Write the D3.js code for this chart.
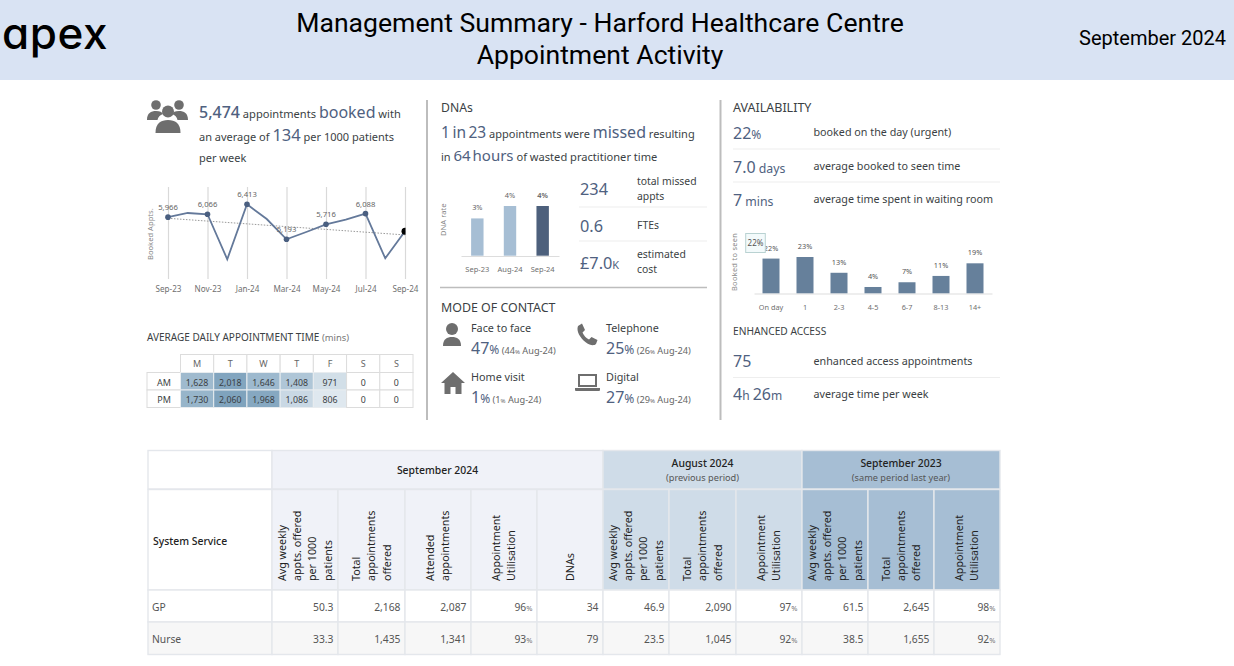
<!DOCTYPE html>
<html><head><meta charset="utf-8">
<script src="https://cdn.jsdelivr.net/npm/d3@7"></script>
<style>html,body{margin:0;padding:0;background:#fff;overflow:hidden}svg{display:block}
text{font-family:"Noto Sans",sans-serif}</style></head><body><div id="c"></div>
<script>
const months=["Sep-23","Oct-23","Nov-23","Dec-23","Jan-24","Feb-24","Mar-24","Apr-24","May-24","Jun-24","Jul-24","Aug-24","Sep-24"];
const booked=[5966,6110,6066,4497,6413,5900,5193,5447,5716,5880,6088,4531,5474];
const trendEnds=[5925,5345];
const labelledMonths=["Sep-23","Nov-23","Jan-24","Mar-24","May-24","Jul-24"];
const heatDays=["M","T","W","T","F","S","S"];
const heatAM=[1628,2018,1646,1408,971,0,0];
const heatPM=[1730,2060,1968,1086,806,0,0];
const dnaMonths=["Sep-23","Aug-24","Sep-24"];
const dnaRates=[3,4,4];
const waitBands=["On day","1","2-3","4-5","6-7","8-13","14+"];
const waitShares=[22,23,13,4,7,11,19];
const tableGroups=[["September 2024",""],["August 2024","(previous period)"],["September 2023","(same period last year)"]];
const colsA=[["Avg weekly","appts. offered","per 1000","patients"],["Total","appointments","offered"],["Attended","appointments"],["Appointment","Utilisation"],["DNAs"]];
const colsB=[["Avg weekly","appts. offered","per 1000","patients"],["Total","appointments","offered"],["Appointment","Utilisation"]];
const rowNames=["GP","Nurse"];
const gpRow=["50.3","2,168","2,087","96%","34","46.9","2,090","97%","61.5","2,645","98%"];
const nurseRow=["33.3","1,435","1,341","93%","79","23.5","1,045","92%","38.5","1,655","92%"];

const dark="#3b3f44",blue="#4f6180",axisGrey="#6f6f6f";
const svg=d3.select("#c").append("svg").attr("width",1234).attr("height",666);
function rich(x,y,parts,anchor){
  const t=svg.append("text").attr("x",x).attr("y",y).attr("text-anchor",anchor||"start");
  parts.forEach(p=>{const s=t.append("tspan").text(p[0]).attr("font-size",p[1]).attr("fill",p[2]||dark).attr("font-weight",p[3]||400);
    if(p[4]) s.attr("word-spacing",p[4]);});
  return t;
}
// header
svg.append("rect").attr("width",1234).attr("height",80).attr("fill","#d9e3f3");
svg.append("text").attr("x",600).attr("y",32).attr("text-anchor","middle").attr("font-size",26.6).style("font-family","Roboto").attr("fill","#000").text("Management Summary - Harford Healthcare Centre");
svg.append("text").attr("x",600).attr("y",64).attr("text-anchor","middle").attr("font-size",26.6).style("font-family","Roboto").attr("fill","#000").text("Appointment Activity");
svg.append("text").attr("x",1226).attr("y",45).attr("text-anchor","end").attr("font-size",20).style("font-family","Roboto").attr("fill","#000").text("September 2024");
svg.append("text").attr("x",2).attr("y",49).attr("font-size",44).style("font-family","Inter").style("font-feature-settings",'"cv11"').attr("font-weight",500).attr("letter-spacing",.6).attr("fill","#000").text("apex");

// dividers
[427,720.5].forEach(x=>svg.append("line").attr("x1",x).attr("x2",x).attr("y1",100).attr("y2",420).attr("stroke","#bdbdbd").attr("stroke-width",2));

// left text
const icon=(x,y,s)=>svg.append("g").attr("transform",`translate(${x},${y}) scale(${s||1})`).attr("fill","#6e6e6e");
const people=icon(147,99);
[[9,6,4.8],[32,6,4.8]].forEach(c=>people.append("circle").attr("cx",c[0]).attr("cy",c[1]).attr("r",c[2]));
people.append("path").attr("d","M0 21 C0 14 4 12 9 12 C13 12 15 13 16 15 C13 16 11 18 10.5 21 Z M41 21 C41 14 37 12 32 12 C28 12 26 13 25 15 C28 16 30 18 30.5 21 Z");
people.append("circle").attr("cx",21).attr("cy",12.5).attr("r",6);
people.append("path").attr("d","M8.5 34 C8.5 24 14 21 21 21 C28 21 33.5 24 33.5 34 Z");
rich(199,118,[["5,474",16,blue,500],[" appointments ",11.1,dark],["booked",16,blue,400],[" with",11.1,dark]]);
rich(199,141,[["an average of ",11],["134",16.5,blue,400],[" per 1000 patients",11]]);
rich(199,162,[["per week",11]]);

// line chart
const lx=d3.scalePoint().domain(months).range([168,405]);
const ly=d3.scaleLinear().domain([3855,6413]).range([277.7,204.3]);
const lineAxis=d3.axisBottom(lx).tickValues(months.filter((m,i)=>i%2==0)).tickSize(-92).tickPadding(7);
const ag=svg.append("g").attr("transform","translate(0,279)").call(lineAxis);
ag.select(".domain").remove();
ag.selectAll("line").attr("stroke","#d9d9d9").attr("stroke-width",1.2);
ag.selectAll("text").attr("font-size",8.1).attr("fill",axisGrey);
svg.append("defs").append("clipPath").attr("id","lc").append("rect").attr("x",150).attr("y",180).attr("width",255.5).attr("height",110);
const lg=svg.append("g").attr("clip-path","url(#lc)");
lg.append("path").attr("d",d3.line()([[lx(months[0]),ly(trendEnds[0])],[lx(months[12]),ly(trendEnds[1])]])).attr("stroke","#999").attr("stroke-width",1).attr("stroke-dasharray","1.5 1.5").attr("fill","none");
lg.append("path").datum(booked).attr("d",d3.line().x((d,i)=>lx(months[i])).y(d=>ly(d))).attr("fill","none").attr("stroke","#64799a").attr("stroke-width",1.8);
months.forEach((m,i)=>{
  if(labelledMonths.includes(m)){
    lg.append("circle").attr("cx",lx(m)).attr("cy",ly(booked[i])).attr("r",2.8).attr("fill","#4a5f80");
    svg.append("text").attr("x",lx(m)).attr("y",ly(booked[i])-7).attr("text-anchor","middle").attr("font-size",7.7).attr("fill","#666").text(d3.format(",")(booked[i]));
  }
});
lg.append("circle").attr("cx",lx("Sep-24")).attr("cy",ly(booked[12])).attr("r",3.5).attr("fill","#000");
svg.append("text").attr("transform","translate(153,260) rotate(-90)").attr("font-size",7.6).attr("fill","#888").text("Booked Appts.");

// heat table
rich(147,341,[["AVERAGE DAILY APPOINTMENT TIME ",10,dark],["(mins)",9.4,"#777"]]);
const hx=d3.scaleBand().domain(d3.range(7)).range([180.5,413]);
const heat=d3.scaleLinear().domain([0,1,806,1408,2060]).range(["#fff","#dfe8ef","#dfe8ef","#afc6d7","#7fa3bd"]).clamp(true);
const grid="#dcdcdc";
heatDays.forEach((d,i)=>{
  svg.append("rect").attr("x",hx(i)).attr("y",354.5).attr("width",hx.bandwidth()).attr("height",18).attr("fill","#fff").attr("stroke",grid);
  svg.append("text").attr("x",hx(i)+hx.bandwidth()/2).attr("y",367).attr("text-anchor","middle").attr("font-size",9).attr("fill","#666").text(d);
});
[["AM",heatAM,372.5],["PM",heatPM,390]].forEach(r=>{
  svg.append("rect").attr("x",147).attr("y",r[2]).attr("width",33.5).attr("height",17.5).attr("fill","#fff").attr("stroke",grid);
  svg.append("text").attr("x",164).attr("y",r[2]+13).attr("text-anchor","middle").attr("font-size",9).attr("fill",dark).text(r[0]);
  r[1].forEach((v,i)=>{
    svg.append("rect").attr("x",hx(i)).attr("y",r[2]).attr("width",hx.bandwidth()).attr("height",17.5).attr("fill",heat(v)).attr("stroke",v?"#e8ecef":grid);
    svg.append("text").attr("x",hx(i)+hx.bandwidth()/2).attr("y",r[2]+13).attr("text-anchor","middle").attr("font-size",8.8).attr("fill",dark).text(d3.format(",")(v));
  });
});

// DNA
rich(441,112,[["DNAs",12.2]]);
rich(441,138,[["1 in 23",15.5,blue,400,-1.5],[" appointments were ",11],["missed",16,blue,400],[" resulting",11]]);
rich(441,161,[["in ",11],["64 hours",15,blue,400,-2],[" of wasted practitioner time",11.1]]);
const dx=d3.scaleBand().domain(dnaMonths).range([461,559]).paddingInner(.62).paddingOuter(.31);
const dy=d3.scaleLinear().domain([0,4]).range([255.7,206]);
const dAxis=d3.axisBottom(dx).tickSize(0).tickPadding(10.5);
const dg=svg.append("g").attr("transform","translate(0,256)").call(dAxis);
dg.select(".domain").attr("stroke","#ddd").attr("stroke-width",1);
dg.selectAll("text").attr("font-size",7.5).attr("fill",axisGrey);
dnaMonths.forEach((m,i)=>{
  svg.append("rect").attr("x",dx(m)).attr("y",dy(dnaRates[i])).attr("width",dx.bandwidth()).attr("height",dy(0)-dy(dnaRates[i])).attr("fill",i==2?"#4d607c":"#a6bed4");
  svg.append("text").attr("x",dx(m)+dx.bandwidth()/2).attr("y",dy(dnaRates[i])-8).attr("text-anchor","middle").attr("font-size",7.4).attr("font-weight",i==2?600:400).attr("fill","#666").text(dnaRates[i]+"%");
});
svg.append("text").attr("transform","translate(446,236) rotate(-90)").attr("font-size",7.6).attr("fill","#888").text("DNA rate");
rich(580,195,[["234",16.3,blue,400]]);
rich(637,185,[["total missed",10.4]]);rich(637,200,[["appts",10.4]]);
rich(580,232,[["0.6",16.3,blue,400]]);
rich(637,229,[["FTEs",10.4]]);
rich(580,269,[["£7.0",16.3,blue,400],["K",11,blue,400]]);
rich(637,258,[["estimated",10.4]]);rich(637,273,[["cost",10.4]]);
[207,241].forEach(y=>svg.append("line").attr("x1",579).attr("x2",707).attr("y1",y).attr("y2",y).attr("stroke","#eeeeee").attr("stroke-width",1.2));
svg.append("line").attr("x1",440).attr("x2",707).attr("y1",287.5).attr("y2",287.5).attr("stroke","#bdbdbd").attr("stroke-width",1.5);

// mode of contact
rich(441,312,[["MODE OF CONTACT",12.4]]);
const person=icon(443,323);
person.append("circle").attr("cx",9).attr("cy",6).attr("r",6);
person.append("path").attr("d","M0 23 C0 16 4 14 9 14 C14 14 18 16 18 23 Z");
const phone=icon(577,323);
phone.append("path").attr("d","M1 3 L5 0.5 L8 7 L5.5 9.5 C7 13 9 15 12 16.5 L14.5 14 L20.5 17 L19 21 C17 23 13 22.5 9 19.5 C3 15 -1 8 1 3 Z");
const house=icon(441,372);
house.append("path").attr("d","M12 0 L24 11 L20.5 11 L20.5 22 L14.5 22 L14.5 15 L9.5 15 L9.5 22 L3.5 22 L3.5 11 L0 11 Z");
const laptop=icon(575,374);
laptop.append("path").attr("fill-rule","evenodd").attr("d","M3 0 H22 V13 H3 Z M5 2 V11 H20 V2 Z M0 14 H25 V16 Q25 17 24 17 H1 Q0 17 0 16 Z");
[[471,332,348,"Face to face","47%","44","Aug-24"],[606,332,348,"Telephone","25%","26","Aug-24"],[471,381,397,"Home visit","1%","1","Aug-24"],[606,381,397,"Digital","27%","29","Aug-24"]].forEach(d=>{
  rich(d[0],d[1],[[d[3],10.8]]);
  rich(d[0],d[2]+6,[[d[4].slice(0,-1),16,blue,400],["%",12,blue,400],[" ("+d[5],9.2,"#666"],["%",6,"#666"],[" "+d[6]+")",9.2,"#666"]]);
});

// availability
rich(733,112,[["AVAILABILITY",12.5]]);
rich(733,139,[["22",16,blue,400],["%",12,blue,400]]);
rich(733,173,[["7.0",16,blue,400],[" days",12.3,blue]]);
rich(733,206,[["7",16,blue,400],[" mins",12.3,blue]]);
rich(813.5,136,[["booked on the day (urgent)",10.75]]);
rich(813.5,170,[["average booked to seen time",10.75]]);
rich(813.5,203,[["average time spent in waiting room",10.75]]);
[149,182].forEach(y=>svg.append("line").attr("x1",733).attr("x2",1000).attr("y1",y).attr("y2",y).attr("stroke","#eeeeee").attr("stroke-width",1.2));
const wx=d3.scaleBand().domain(waitBands).range([754,992]).padding(.5);
wx.paddingOuter(.25);
const wy=d3.scaleLinear().domain([0,23]).range([293.3,257]);
const wg=svg.append("g").attr("transform","translate(0,293.5)").call(d3.axisBottom(wx).tickSize(0).tickPadding(11));
wg.select(".domain").attr("stroke","#ddd");
wg.selectAll("text").attr("font-size",7.3).attr("fill",axisGrey);
waitBands.forEach((b,i)=>{
  svg.append("rect").attr("x",wx(b)).attr("y",wy(waitShares[i])).attr("width",wx.bandwidth()).attr("height",wy(0)-wy(waitShares[i])).attr("fill","#66809b");
  svg.append("text").attr("x",wx(b)+wx.bandwidth()/2).attr("y",wy(waitShares[i])-8).attr("text-anchor","middle").attr("font-size",7.3).attr("fill","#555").text(waitShares[i]+"%");
});
svg.append("text").attr("transform","translate(737,291) rotate(-90)").attr("font-size",7.4).attr("fill","#888").attr("letter-spacing",.3).text("Booked to seen");
svg.append("rect").attr("x",745.7).attr("y",233.5).attr("width",19.6).attr("height",19).attr("fill","#f3fafb").attr("stroke","#b9d2d2");
svg.append("text").attr("x",755.5).attr("y",246).attr("text-anchor","middle").attr("font-size",8).attr("fill","#555").text(waitShares[0]+"%");
rich(733,335,[["ENHANCED ACCESS",10.2]]);
rich(733,367,[["75",16,blue,400]]);
rich(813.5,365,[["enhanced access appointments",10.75]]);
rich(733,400,[["4",16,blue,400],["h ",12,blue],["26",16,blue,400],["m",12,blue]]);
rich(813.5,398,[["average time per week",10.75]]);
svg.append("line").attr("x1",733).attr("x2",1000).attr("y1",377.5).attr("y2",377.5).attr("stroke","#eeeeee").attr("stroke-width",1.2);

// table
const colX=[272,338,405,471,537,603,669,736,802,868,934,1000];
const gap="#e4e7ec";
const colFill=i=>i<5?"#f0f2f8":i<8?"#cfdce8":"#a6bed4";
const cell=(x,y,w,h,f)=>svg.append("rect").attr("x",x).attr("y",y).attr("width",w).attr("height",h).attr("fill",f).attr("stroke",gap).attr("stroke-width",1.4);
cell(148,450.5,124,38.5,"#fff");
cell(148,489.5,124,100.5,"#fff");
rich(153,545,[["System Service",10.4,"#222",500]]);
[[272,603,0],[603,802,1],[802,1000,2]].forEach(g=>{
  cell(g[0],450.5,g[1]-g[0],38.5,["#f0f2f8","#cfdce8","#a6bed4"][g[2]]);
  const cx=(g[0]+g[1])/2,tg=tableGroups[g[2]];
  if(tg[1]){rich(cx,467,[[tg[0],10.4,"#222",500]],"middle");rich(cx,481,[[tg[1],9.2,"#555"]],"middle");}
  else rich(cx,474,[[tg[0],10.4,"#222",500]],"middle");
});
const heads=colsA.concat(colsB,colsB);
heads.forEach((lines,i)=>{
  cell(colX[i],489.5,colX[i+1]-colX[i],100.5,colFill(i));
  const cx=(colX[i]+colX[i+1])/2;
  lines.forEach((l,j)=>{
    const x=cx+(j-(lines.length-1)/2)*15.3;
    svg.append("text").attr("transform",`translate(${x+3.8},581) rotate(-90)`).attr("font-size",10.7).attr("fill","#222").text(l);
  });
});
[[rowNames[0],gpRow,590,32,"#fff"],[rowNames[1],nurseRow,622,32.5,"#f7f7f7"]].forEach(r=>{
  cell(148,r[2],124,r[3],r[4]);
  rich(152,r[2]+20.5,[[r[0],10.3,"#555"]]);
  r[1].forEach((v,i)=>{
    cell(colX[i],r[2],colX[i+1]-colX[i],r[3],r[4]);
    const parts=v.endsWith("%")?[[v.slice(0,-1),10.3,"#555"],["%",7.5,"#777"]]:[[v,10.3,"#555"]];
    rich(colX[i+1]-4.5,r[2]+20.5,parts,"end");
  });
});
</script></body></html>
